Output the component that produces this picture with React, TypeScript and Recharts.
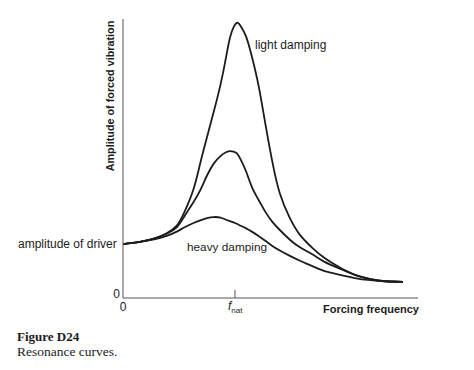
import React from 'react';
import { LineChart, Line, XAxis, YAxis, ReferenceLine, Customized } from 'recharts';

// forcing frequency as a ratio of the natural frequency
const frequency = [0, 0.15, 0.29, 0.39, 0.48, 0.55, 0.63, 0.69, 0.75, 0.81, 0.87, 0.92, 0.96, 1.01, 1.05, 1.1, 1.15, 1.21, 1.27, 1.33, 1.4, 1.49, 1.58, 1.69, 1.8, 1.94, 2.07, 2.21, 2.34, 2.5];
// amplitude of forced vibration (amplitude of driver = 1)
const lightDamping = [1.0, 1.04, 1.11, 1.2, 1.34, 1.6, 2.02, 2.5, 2.98, 3.45, 3.95, 4.46, 4.86, 5.09, 5.04, 4.84, 4.48, 3.94, 3.24, 2.56, 1.94, 1.48, 1.17, 0.93, 0.74, 0.56, 0.43, 0.35, 0.31, 0.3];
const mediumDamping = [1.0, 1.04, 1.11, 1.19, 1.31, 1.52, 1.78, 2.0, 2.27, 2.49, 2.63, 2.7, 2.72, 2.69, 2.57, 2.34, 2.06, 1.82, 1.6, 1.42, 1.26, 1.08, 0.94, 0.81, 0.67, 0.54, 0.43, 0.35, 0.31, 0.3];
const heavyDamping = [1.0, 1.04, 1.09, 1.15, 1.23, 1.31, 1.39, 1.44, 1.48, 1.5, 1.49, 1.45, 1.42, 1.38, 1.34, 1.29, 1.23, 1.15, 1.06, 0.97, 0.88, 0.78, 0.69, 0.59, 0.5, 0.43, 0.37, 0.33, 0.31, 0.3];

const xTicks = [0, 1];
const xTickLabels = ['0', 'f|nat'];
const yTicks = [0];
const yTickLabels = ['0'];
const xDomain = [0, 2.634];
const yDomain = [0, 5.17];

const data = frequency.map((x, i) => ({
  x,
  light: lightDamping[i],
  medium: mediumDamping[i],
  heavy: heavyDamping[i],
}));

const SANS = '"Liberation Sans", Arial, sans-serif';
const SERIF = '"Liberation Serif", "Times New Roman", serif';
const INK = '#1c1c1c';

const XTick = (props: any) => {
  const { x, y, payload } = props;
  const idx = xTicks.indexOf(payload.value);
  const label = xTickLabels[idx] ?? String(payload.value);
  if (label.includes('|')) {
    const [main, sub] = label.split('|');
    return (
      <text x={x - 7} y={y + 4} fontFamily={SANS} fill={INK}>
        <tspan fontSize={12} fontStyle="italic">{main}</tspan>
        <tspan fontSize={8} dy={3}>{sub}</tspan>
      </text>
    );
  }
  return (
    <text x={x} y={y + 5} textAnchor="middle" fontFamily={SANS} fontSize={12} fill={INK}>
      {label}
    </text>
  );
};

const YTick = (props: any) => {
  const { x, y, payload } = props;
  const idx = yTicks.indexOf(payload.value);
  const label = yTickLabels[idx] ?? String(payload.value);
  return (
    <text x={x + 5} y={y} textAnchor="end" fontFamily={SANS} fontSize={12} fill={INK}>
      {label}
    </text>
  );
};

const Annotations = () => (
  <g fill={INK}>
    <text
      transform="translate(114, 96) rotate(-90)"
      textAnchor="middle"
      fontFamily={SANS}
      fontWeight="bold"
      fontSize={10.8}
    >
      Amplitude of forced vibration
    </text>
    <text x={18} y={248} fontFamily={SANS} fontSize={12}>amplitude of driver</text>
    <text x={255} y={49} fontFamily={SANS} fontSize={12}>light damping</text>
    <text x={187} y={251} fontFamily={SANS} fontSize={11.8}>heavy damping</text>
    <text x={419} y={313} textAnchor="end" fontFamily={SANS} fontWeight="bold" fontSize={11}>
      Forcing frequency
    </text>
    <text x={17} y={341} fontFamily={SERIF} fontWeight="bold" fontSize={13}>Figure D24</text>
    <text x={17} y={356} fontFamily={SERIF} fontSize={13.5}>Resonance curves.</text>
  </g>
);

export default function App() {
  return (
    <div style={{ position: 'absolute', left: 0, top: 0, background: '#fff' }}>
      <LineChart
        width={474}
        height={370}
        data={data}
        margin={{ top: 19, right: 56, bottom: 42, left: 93 }}
      >
        <XAxis
          dataKey="x"
          type="number"
          domain={xDomain}
          ticks={xTicks}
          tick={<XTick />}
          tickLine={false}
          axisLine={{ stroke: '#555', strokeWidth: 1 }}
          height={30}
          allowDataOverflow
        />
        <YAxis
          type="number"
          domain={yDomain}
          ticks={yTicks}
          tick={<YTick />}
          tickLine={false}
          axisLine={{ stroke: '#555', strokeWidth: 1 }}
          width={30}
          allowDataOverflow
        />
        <ReferenceLine
          segment={[{ x: 1, y: 0 }, { x: 1, y: 0.15 }]}
          stroke="#555"
          strokeWidth={1}
        />
        <Line type="natural" dataKey="light" stroke={INK} strokeWidth={1.8} dot={false} isAnimationActive={false} />
        <Line type="natural" dataKey="medium" stroke={INK} strokeWidth={1.8} dot={false} isAnimationActive={false} />
        <Line type="natural" dataKey="heavy" stroke={INK} strokeWidth={1.8} dot={false} isAnimationActive={false} />
        <Customized component={Annotations} />
      </LineChart>
    </div>
  );
}
